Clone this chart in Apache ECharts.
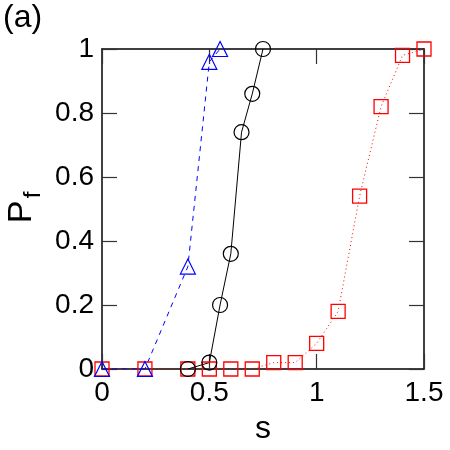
<!DOCTYPE html>
<html>
<head>
    <meta charset="utf-8">
    <title>P_f vs s</title>
</head>
<body style="margin:0;">
        <div id="main" style="width: 450px;height:450px;"></div>
</body>
<script src="https://cdn.jsdelivr.net/npm/echarts@6/dist/echarts.min.js"></script>
<script>
// data
var triS  = [0, 0.2, 0.4, 0.5, 0.55];
var triP  = [0, 0, 0.32, 0.96, 1.0];

var circS = [0.4, 0.5, 0.55, 0.6, 0.65, 0.7, 0.75];
var circP = [0, 0.02, 0.2, 0.36, 0.74, 0.86, 1.0];

var sqS = [0, 0.2, 0.4, 0.5, 0.6, 0.7, 0.8, 0.9, 1.0, 1.1, 1.2, 1.3, 1.4, 1.5];
var sqP = [0, 0, 0, 0, 0, 0, 0.02, 0.02, 0.08, 0.18, 0.54, 0.82, 0.98, 1.0];

function pairs(xs, ys) {
    return xs.map(function (x, i) { return [x, ys[i]]; });
}

var FONT = 'Liberation Sans, Arial, sans-serif';
var myChart = echarts.init(document.getElementById('main'));

// axis helper, mirrored axes get no labels
function ax(pos, max, iv, labels) {
    return {
        type: 'value',
        position: pos,
        min: 0, max: max, interval: iv,
        axisLine: { show: true, onZero: false, lineStyle: { color: '#000', width: 1.5 } },
        axisTick: { show: true, inside: true, length: 15, lineStyle: { color: '#333', width: 1.2 } },
        splitLine: { show: false },
        axisLabel: { show: labels, color: '#000', fontSize: 28, fontFamily: FONT,
                     margin: (pos == 'bottom' || pos == 'top') ? 10 : 8 }
    };
}

var xBottom = ax('bottom', 1.5, 0.5, true);
xBottom.name = 's';
xBottom.nameLocation = 'middle';
xBottom.nameGap = 44;
xBottom.nameTextStyle = { fontSize: 32, fontFamily: FONT, color: '#000' };

myChart.setOption({
    animation: false,
    backgroundColor: '#fff',
    grid: { left: 102, right: 26, top: 49, bottom: 78, containLabel: false },
    xAxis: [xBottom, ax('top', 1.5, 0.5, false)],
    yAxis: [ax('left', 1, 0.2, true), ax('right', 1, 0.2, false)],
    graphic: [
        { type: 'text', x: 3, y: 2, style: { text: '(a)', font: '32px ' + FONT, fill: '#000', verticalAlign: 'top' } },
        { type: 'group', x: 22, y: 212, rotation: Math.PI / 2, children: [
            { type: 'text', x: 0, y: 0, style: { text: 'P', font: '34px ' + FONT, fill: '#000', align: 'center', verticalAlign: 'middle' } },
            { type: 'text', x: 17, y: 11, style: { text: 'f', font: '24px ' + FONT, fill: '#000', align: 'center', verticalAlign: 'middle' } }
        ]}
    ],
    series: [
        {
            type: 'line', data: pairs(sqS, sqP),
            symbol: 'rect', symbolSize: 14,
            itemStyle: { color: 'transparent', borderColor: '#ff0000', borderWidth: 1.3 },
            lineStyle: { color: '#ff0000', width: 1, type: [1, 3] }
        },
        {
            type: 'line', data: pairs(circS, circP),
            symbol: 'circle', symbolSize: 15,
            itemStyle: { color: 'transparent', borderColor: '#000', borderWidth: 1.2 },
            lineStyle: { color: '#000', width: 1 }
        },
        {
            type: 'line', data: pairs(triS, triP),
            symbol: 'triangle', symbolSize: 15,
            itemStyle: { color: 'transparent', borderColor: '#0000ff', borderWidth: 1.2 },
            lineStyle: { color: '#0000ff', width: 1, type: [5, 5] }
        }
    ]
});
</script>
</html>
